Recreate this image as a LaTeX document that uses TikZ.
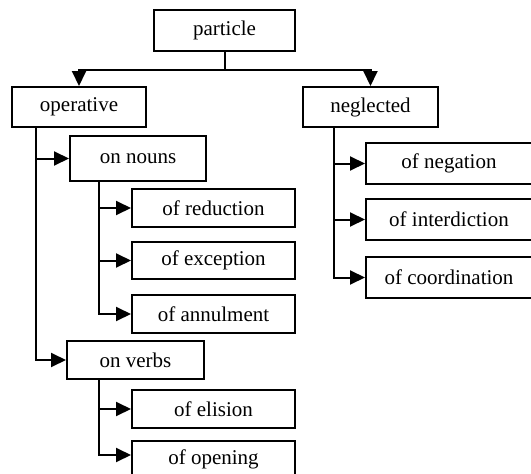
\documentclass[tikz,border=0pt]{standalone}
\usepackage{fontspec}
\setmainfont{Liberation Serif}
\usetikzlibrary{arrows.meta}
\begin{document}
\begin{tikzpicture}[x=1pt,y=-1pt,
  box/.style={draw,line width=2pt,inner sep=0pt,font=\fontsize{21}{24}\selectfont},
  conn/.style={line width=2pt},
  arr/.style={conn,-{Triangle[length=15pt,width=14pt]}}]
\useasboundingbox (0,0) rectangle (531,474);
\node[box,minimum width=141pt,minimum height=41pt] (particle) at (224.5,30.5) {particle};
\node[box,minimum width=134pt,minimum height=40pt] (operative) at (79,107) {operative};
\node[box,minimum width=135pt,minimum height=40pt] (neglected) at (370.5,107) {neglected};
\node[box,minimum width=136pt,minimum height=45pt] (onnouns) at (138,158.5) {on nouns};
\node[box,minimum width=163pt,minimum height=38pt] (reduction) at (213.5,208) {of reduction};
\node[box,minimum width=163pt,minimum height=37pt] (exception) at (213.5,260.5) {of exception};
\node[box,minimum width=163pt,minimum height=38pt] (annulment) at (213.5,314) {of annulment};
\node[box,minimum width=137pt,minimum height=38pt] (onverbs) at (135.5,360) {on verbs};
\node[box,minimum width=163pt,minimum height=38pt] (elision) at (213.5,409) {of elision};
\node[box,minimum width=163pt,minimum height=40pt,text depth=0pt] (opening) at (213.5,461) {\raisebox{7pt}{of opening}};
\node[box,minimum width=172pt,minimum height=41pt] (negation) at (452,163.5) {\hspace*{-6pt}of negation};
\node[box,minimum width=172pt,minimum height=41pt] (interdiction) at (452,219.5) {\hspace*{-6pt}of interdiction};
\node[box,minimum width=172pt,minimum height=41pt] (coordination) at (452,277.5) {\hspace*{-6pt}of coordination};
% top connectors
\draw[conn] (particle.south) -- ++(0,18) coordinate (sp);
\draw[arr] (sp) -| (operative.north);
\draw[arr] (sp) -| (neglected.north);
% operative branch
\coordinate (opstem) at (36,127);
\draw[arr] (opstem) |- (onverbs.west);
\draw[arr] (opstem |- onnouns.west) -- (onnouns.west);
% on nouns branch
\coordinate (nnstem) at (99,181);
\draw[arr] (nnstem) |- (annulment.west);
\draw[arr] (nnstem |- reduction.west) -- (reduction.west);
\draw[arr] (nnstem |- exception.west) -- (exception.west);
% on verbs branch
\coordinate (vbstem) at (99,379);
\coordinate (optip) at (opening.west |- 0,455);
\draw[arr] (vbstem) |- (optip);
\draw[arr] (vbstem |- elision.west) -- (elision.west);
% neglected branch
\coordinate (ngstem) at (334,127);
\draw[arr] (ngstem) |- (coordination.west);
\draw[arr] (ngstem |- negation.west) -- (negation.west);
\draw[arr] (ngstem |- interdiction.west) -- (interdiction.west);
\end{tikzpicture}
\end{document}
